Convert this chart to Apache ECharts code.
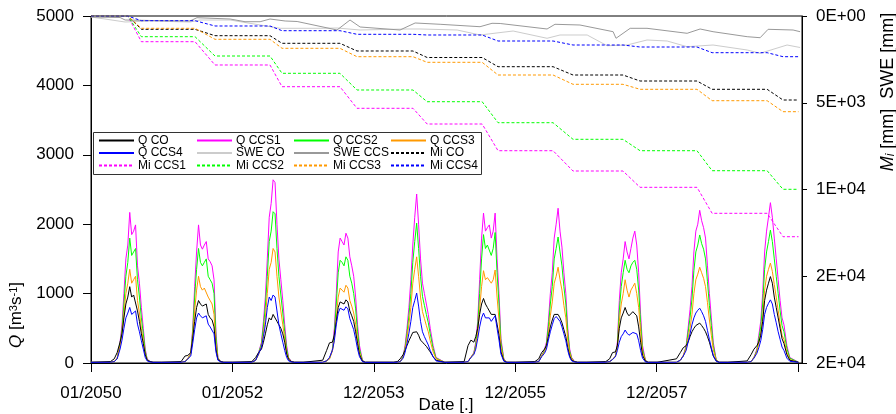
<!DOCTYPE html>
<html><head><meta charset="utf-8">
<script src="https://cdn.jsdelivr.net/npm/echarts@6/dist/echarts.min.js"></script>
<style>html,body{margin:0;padding:0;background:#fff}#c{width:896px;height:414px}</style>
</head><body><div id="c"></div>
<script>
// ---------- DATA ----------
const years = [2050,2051,2052,2053,2054,2055,2056,2057,2058,2059];
// day-of-year sample points of the discharge series (one row per year in each array below)
const qDoy = [0,100,120,135,150,160,170,180,190,200,210,220,230,240,250,260,270,280,290,305,320,365];

const qCO = [
 [10,20,60,150,300,420,650,850,950,1100,950,980,1000,750,600,420,280,120,40,20,10,10],
 [10,20,100,110,150,350,600,800,900,850,820,830,850,700,650,620,520,200,50,20,10,10],
 [10,20,80,150,200,300,420,550,650,620,700,680,600,550,500,420,300,130,50,20,10,10],
 [10,40,180,290,300,400,600,800,880,860,850,910,880,750,680,600,450,280,120,25,10,10],
 [10,10,20,60,120,180,250,320,380,440,460,450,400,330,300,270,240,200,160,90,40,10],
 [10,20,250,330,300,380,500,700,850,930,850,800,780,700,680,700,560,400,160,30,10,10],
 [10,20,60,150,200,250,380,520,620,700,720,700,650,580,480,380,220,100,40,20,10,10],
 [10,20,60,150,160,250,500,650,720,800,720,680,700,740,760,680,520,300,110,25,10,10],
 [10,60,150,220,250,300,380,450,500,540,560,575,540,500,450,380,300,200,100,30,10,10],
 [10,30,120,200,250,300,400,600,900,1050,1150,1245,1150,950,800,650,500,350,280,120,40,10]
];
const qCCS1 = [
 [10,10,20,60,300,550,1000,1500,1700,2170,1850,1900,1990,1400,1150,800,500,200,60,20,10,10],
 [10,10,20,60,150,500,1100,1600,1990,1700,1640,1700,1750,1500,1460,1400,1200,450,80,20,10,10],
 [10,10,40,150,300,600,950,1500,2100,2300,2640,2600,2000,1500,1200,900,550,250,80,20,10,10],
 [10,10,30,60,200,500,1000,1600,1800,1750,1700,1870,1800,1530,1400,1250,950,550,250,40,10,10],
 [10,10,10,20,100,250,500,800,1200,1700,2100,2435,2000,1500,1150,1000,850,700,500,250,80,10],
 [10,10,20,80,150,300,600,1200,1800,2160,1900,1950,1990,1800,1900,2160,1500,1000,350,60,10,10],
 [10,10,20,100,200,300,600,1000,1300,1800,2000,2230,1900,1670,1300,1000,500,200,80,20,10,10],
 [10,10,20,50,100,300,900,1300,1500,1750,1600,1500,1650,1800,1900,1700,1300,700,250,40,10,10],
 [10,10,40,100,250,500,770,1100,1600,1900,2000,2200,2050,1950,1800,1400,1000,650,300,50,10,10],
 [10,10,20,80,200,400,600,1000,1600,1900,2100,2310,2100,1800,1500,1200,900,650,550,250,80,10]
];
const qCCS2 = [
 [10,10,20,60,280,480,850,1250,1450,1800,1550,1600,1650,1200,950,650,420,170,50,20,10,10],
 [10,10,20,60,140,450,950,1350,1650,1450,1400,1450,1500,1250,1200,1150,1000,380,70,20,10,10],
 [10,10,40,140,280,520,820,1250,1750,1900,2180,2150,1650,1250,980,720,450,200,70,20,10,10],
 [10,10,30,60,190,420,850,1300,1480,1450,1400,1530,1480,1250,1150,1000,780,450,200,35,10,10],
 [10,10,10,20,90,220,430,680,1000,1450,1750,2015,1650,1250,960,830,700,580,420,210,70,10],
 [10,10,20,80,140,270,520,1000,1500,1850,1650,1700,1720,1550,1650,1880,1300,850,300,50,10,10],
 [10,10,20,100,180,270,520,850,1100,1500,1650,1815,1600,1400,1100,850,430,170,70,20,10,10],
 [10,10,20,50,100,260,750,1100,1300,1480,1350,1300,1400,1450,1480,1350,1050,580,200,35,10,10],
 [10,10,40,100,230,440,650,920,1330,1600,1700,1845,1720,1640,1500,1170,830,540,250,45,10,10],
 [10,10,20,80,180,350,520,850,1350,1600,1750,1915,1750,1500,1250,1000,750,540,450,210,70,10]
];
const qCCS3 = [
 [10,10,20,70,250,420,700,1000,1150,1350,1150,1200,1250,900,720,500,320,130,40,20,10,10],
 [10,10,20,70,130,380,750,1050,1250,1100,1050,1080,1100,950,900,850,700,280,60,20,10,10],
 [10,10,40,120,250,420,650,1000,1350,1450,1650,1600,1250,950,750,550,350,150,60,20,10,10],
 [10,10,30,60,170,340,650,950,1080,1050,1020,1120,1080,900,820,720,560,330,150,30,10,10],
 [10,10,10,20,80,190,360,560,800,1150,1350,1530,1250,950,740,640,540,450,320,160,60,10],
 [10,10,20,90,130,230,420,780,1100,1330,1200,1230,1250,1150,1200,1340,950,620,230,40,10,10],
 [10,10,20,100,160,230,420,680,880,1150,1250,1380,1200,1050,830,650,330,140,60,20,10,10],
 [10,10,20,50,100,220,600,850,1000,1200,1050,950,1050,1100,1150,1000,800,450,160,30,10,10],
 [10,10,40,110,210,360,500,700,1000,1200,1280,1380,1300,1220,1100,870,620,400,190,40,10,10],
 [10,10,20,80,160,290,420,650,1050,1250,1350,1440,1320,1130,950,760,570,400,340,150,50,10]
];
const qCCS4 = [
 [10,10,20,60,200,330,500,650,720,800,700,720,750,560,450,320,200,80,30,15,10,10],
 [10,10,20,60,100,280,480,650,720,680,650,660,680,560,520,500,420,160,40,15,10,10],
 [10,10,40,130,230,380,550,800,950,900,980,950,750,550,420,300,180,80,30,15,10,10],
 [10,10,30,80,180,320,550,720,790,770,760,810,780,640,560,480,350,200,90,20,10,10],
 [10,10,10,20,70,150,280,430,600,800,900,1008,820,600,450,380,320,260,180,90,30,10],
 [10,10,20,80,120,200,350,520,650,720,650,640,650,600,620,680,500,330,130,25,10,10],
 [10,10,20,90,140,200,330,450,550,640,670,680,600,520,420,320,180,80,30,15,10,10],
 [10,10,20,50,90,180,300,380,420,475,430,400,420,440,460,420,320,180,70,15,10,10],
 [10,10,40,100,180,300,420,550,650,720,760,790,740,680,600,470,340,220,110,25,10,10],
 [10,10,20,70,140,220,320,480,700,800,860,910,850,700,580,450,340,230,180,70,25,10]
];

// cumulative melt Mi [mm]: level before 2050 and after each melt season
const miStepStartDoy = [190,172,194,189,201,193,194,189,206,203];
const miStepEndDoy   = [260,275,256,277,274,275,297,277,284,285];
const miCO   = [0,767,1135,1574,2017,2392,2922,3401,3747,4225,4842];
const miCCS1 = [0,1481,2824,4075,5320,6225,7764,8934,9874,11372,12721];
const miCCS2 = [0,1193,2306,3303,4265,4940,6150,7107,7764,8917,9989];
const miCCS3 = [0,709,1343,1862,2346,2669,3401,3937,4225,4882,5516];
const miCCS4 = [0,271,576,847,1055,1095,1441,1672,1787,2115,2346];

// SWE [mm] (days since 01/01/2050)
const sweCCSDays = [0,150,176,305,511,547,718,795,873,924,1002,1064,1270,1337,1389,1595,1673,1802,2008,2070,2112,2354,2395,2524,2695,2710,2783,2870,3077,3144,3211,3387,3454,3495,3624,3660];
const sweCCS     = [58,86,231,259,288,98,173,329,329,173,288,317,807,231,634,807,403,478,617,421,432,749,478,519,905,1285,709,709,997,749,905,1193,1251,767,807,905];
const sweCODays  = [0,72,176,305,511,563,718,873,976,1198,1270,1389,1631,1698,1890,2008,2179,2354,2421,2561,2664,2767,2870,2974,3077,3211,3387,3454,3593,3660];
const sweCO      = [58,173,346,288,346,231,231,519,709,709,692,807,749,749,807,1095,865,1285,1095,1095,1712,1672,1383,1441,1770,1672,1960,2150,1672,1816];

// axes
const xTickDays   = [0,730,1460,2190,2920,3650];
const xTickLabels = ['01/2050','01/2052','12/2053','12/2055','12/2057',''];
const rightTickLabels = ['0E+00','5E+03','1E+04','2E+04','2E+04'];

// ---------- BUILD ----------
const DAY = 86400000;
function dayOf(year, doy){ return (Date.UTC(year,0,1) - Date.UTC(2050,0,1)) / DAY + doy; }
function qData(arr){ const out=[]; years.forEach((y,i)=>qDoy.forEach((d,j)=>out.push([dayOf(y,d), arr[i][j]]))); return out; }
function miData(levels){
  const out=[[0,levels[0]]];
  years.forEach((y,i)=>{ out.push([dayOf(y,miStepStartDoy[i]), levels[i]]); out.push([dayOf(y,miStepEndDoy[i]), levels[i+1]]); });
  out.push([dayOf(2059,365), levels[levels.length-1]]);
  return out;
}
function pairs(days, vals){ return days.map((d,i)=>[d, vals[i]]); }

const F = 'Liberation Sans, Arial, sans-serif';
function line(name, data, color, yIdx, dashed, z){
  return {name, type:'line', data, yAxisIndex:yIdx, symbol:'none', showSymbol:false,
    lineStyle:{color, width:1, type: dashed ? [3,2] : 'solid'}, itemStyle:{color}, z, silent:true};
}
const C = {CO:'#000000', CCS1:'#ff00ff', CCS2:'#00ff00', CCS3:'#ff9900', CCS4:'#0000ff'};

function legCol(left, names){
  return {orient:'vertical', left, top:134.5, padding:0, itemGap:0.5, itemWidth:35, itemHeight:12,
    data:names, selectedMode:false, itemStyle:{opacity:0, borderWidth:0},
    textStyle:{fontFamily:F, fontSize:12, color:'#000', lineHeight:12, padding:[0,0,0,-1]}};
}

const chart = echarts.init(document.getElementById('c'));
chart.setOption({
  animation:false,
  backgroundColor:'#fff',
  grid:{left:91, right:94, top:16, bottom:51, show:true, borderColor:'#000', borderWidth:1, backgroundColor:'transparent'},
  xAxis:{type:'value', min:0, max:3670,
    axisLine:{show:true, lineStyle:{color:'#000'}},
    axisTick:{show:true, length:9, customValues:xTickDays, lineStyle:{color:'#000'}},
    splitLine:{show:false},
    axisLabel:{margin:22, fontFamily:F, fontSize:17, color:'#000', customValues:xTickDays,
      formatter:(v)=>{ const k=xTickDays.indexOf(v); return k>=0 ? xTickLabels[k] : ''; }}},
  yAxis:[
    {type:'value', min:0, max:5000, interval:1000, position:'left',
      axisLine:{show:true, lineStyle:{color:'#000'}}, axisTick:{show:true, length:8, lineStyle:{color:'#000'}},
      splitLine:{show:false}, axisLabel:{margin:17, fontFamily:F, fontSize:17, color:'#000', formatter:(v)=>String(v)}},
    {type:'value', min:0, max:20000, interval:5000, position:'right', inverse:true,
      axisLine:{show:true, lineStyle:{color:'#000'}}, axisTick:{show:true, length:5, lineStyle:{color:'#000'}},
      splitLine:{show:false},
      axisLabel:{margin:14, fontFamily:F, fontSize:17, color:'#000', formatter:(v)=>rightTickLabels[Math.round(v/5000)]}}
  ],
  legend:[
    legCol(98, ['Q CO','Q CCS4','Mi CCS1']),
    legCol(196, ['Q CCS1','SWE CO','Mi CCS2']),
    legCol(293, ['Q CCS2','SWE CCS','Mi CCS3']),
    legCol(390, ['Q CCS3','Mi CO','Mi CCS4'])
  ],
  graphic:[
    {type:'rect', shape:{x:93.5, y:132.5, width:388, height:42}, style:{fill:'none', stroke:'#333', lineWidth:1}, z:1},
    {type:'text', x:16.5, y:315, rotation:Math.PI/2,
      style:{text:'{i|Q} [m{s|3}s{s|-1}]', fontFamily:F, fontSize:17, fill:'#000', align:'center', verticalAlign:'middle',
        rich:{i:{fontFamily:F, fontSize:17, fontStyle:'italic', fill:'#000'}, s:{fontFamily:F, fontSize:11, verticalAlign:'top', fill:'#000'}}}},
    {type:'text', x:888, y:92, rotation:Math.PI/2,
      style:{text:'{i|M}{b|i} [mm]  SWE [mm]', fontFamily:F, fontSize:18, fill:'#000', align:'center', verticalAlign:'middle',
        rich:{i:{fontFamily:F, fontSize:18, fontStyle:'italic', fill:'#000'}, b:{fontFamily:F, fontSize:12, fontStyle:'italic', verticalAlign:'bottom', fill:'#000'}}}},
    {type:'text', x:446, y:405,
      style:{text:'Date [.]', fontFamily:F, fontSize:17, fill:'#000', align:'center', verticalAlign:'middle'}}
  ],
  series:[
    line('SWE CO', pairs(sweCODays, sweCO), '#cccccc', 1, false, 2),
    line('SWE CCS', pairs(sweCCSDays, sweCCS), '#999999', 1, false, 2),
    line('Mi CO', miData(miCO), C.CO, 1, true, 3),
    line('Mi CCS1', miData(miCCS1), C.CCS1, 1, true, 3),
    line('Mi CCS2', miData(miCCS2), C.CCS2, 1, true, 3),
    line('Mi CCS3', miData(miCCS3), C.CCS3, 1, true, 3),
    line('Mi CCS4', miData(miCCS4), C.CCS4, 1, true, 3),
    line('Q CCS1', qData(qCCS1), C.CCS1, 0, false, 4),
    line('Q CCS2', qData(qCCS2), C.CCS2, 0, false, 4),
    line('Q CCS3', qData(qCCS3), C.CCS3, 0, false, 4),
    line('Q CO', qData(qCO), C.CO, 0, false, 4),
    line('Q CCS4', qData(qCCS4), C.CCS4, 0, false, 4)
  ]
});
</script></body></html>
